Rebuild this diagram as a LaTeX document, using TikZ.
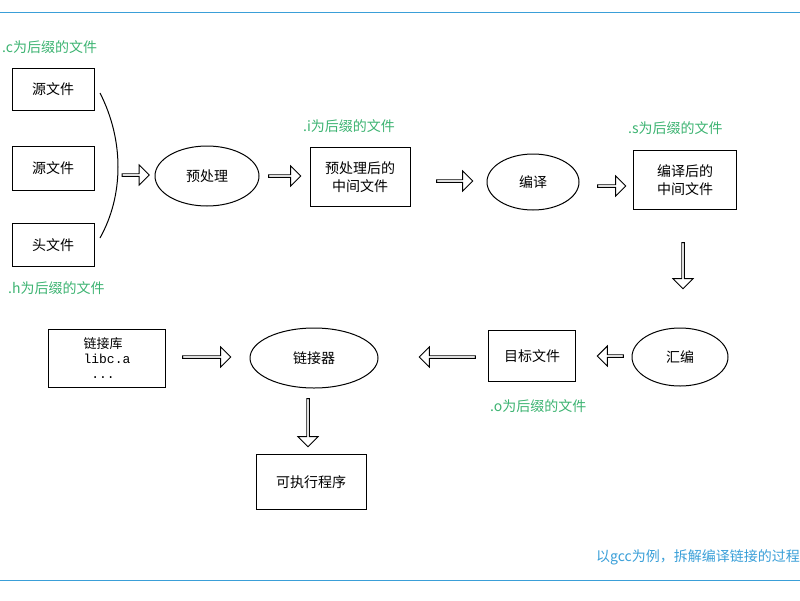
\documentclass[tikz,border=0pt]{standalone}
\usepackage{fontspec}
\setmainfont{Noto Sans CJK SC}
\newfontfamily\monof{Liberation Mono}
\usetikzlibrary{shapes.geometric,shapes.arrows}
\definecolor{grn}{HTML}{3CB371}
\definecolor{blu}{HTML}{3A9FD8}
\begin{document}
\begin{tikzpicture}[x=1pt,y=-1pt,font=\fontsize{14}{18}\selectfont,
 box/.style={draw,line width=1pt,inner sep=0pt},
 ell/.style={draw,line width=1pt,ellipse,inner sep=0pt},
 lab/.style={text=grn,anchor=west,inner sep=0pt},
 harr/.style={draw,line width=0.9pt,single arrow,inner sep=0pt,minimum width=20pt,single arrow head extend=3pt,single arrow tip angle=90}]
\useasboundingbox (0,0) rectangle (800,600);
\draw[blu,line width=1pt] (0,12) coordinate (t1) -- (800,12) coordinate (t2);
\draw[blu,line width=1pt] (0,580) coordinate (b1) -- (800,580) coordinate (b2);
\node[box,minimum width=82pt,minimum height=42pt] (s1) at (53,89) {源文件};
\node[box,minimum width=82pt,minimum height=44pt] (s2) at (53,168) {源文件};
\node[box,minimum width=82pt,minimum height=43pt] (h) at (53,245) {头文件};
\node[lab] (lc) at (2,47) {.c为后缀的文件};
\node[lab] (lh) at (8,288) {.h为后缀的文件};
\coordinate (br1) at (100,93); \coordinate (br2) at (100,238);
\draw[line width=1pt] (br1) .. controls (124,140) and (124,195) .. (br2);
\node[harr,minimum height=27pt] (a1) at (135,175) {};
\node[ell,minimum width=104pt,minimum height=60pt] (pre) at (207,176) {预处理};
\node[harr,minimum height=32pt] (a2) at (284,176) {};
\node[box,minimum width=100pt,minimum height=59pt,align=center] (pi) at (360,177) {预处理后的\\中间文件};
\node[lab] (li) at (303,126) {.i为后缀的文件};
\node[harr,minimum height=36pt] (a3) at (454,181) {};
\node[ell,minimum width=92pt,minimum height=56pt] (cc) at (533,182) {编译};
\node[harr,minimum height=28pt] (a4) at (611,186) {};
\node[box,minimum width=103pt,minimum height=59pt,align=center] (ci) at (685,180) {编译后的\\中间文件};
\node[lab] (ls) at (628,128) {.s为后缀的文件};
\node[harr,minimum height=46pt,rotate=-90] (a5) at (683,265) {};
\node[ell,minimum width=96pt,minimum height=58pt] (as) at (680,357) {汇编};
\node[harr,minimum height=26pt,rotate=180] (a6) at (611,356) {};
\node[box,minimum width=87pt,minimum height=51pt] (ob) at (532,356) {目标文件};
\node[lab] (lo) at (490,406) {.o为后缀的文件};
\node[harr,minimum height=56pt,rotate=180] (a7) at (448,357) {};
\node[ell,minimum width=128pt,minimum height=60pt] (ld) at (314,358) {链接器};
\node[box,minimum width=117pt,minimum height=58pt,align=left,font=\fontsize{13}{15}\selectfont] (lib) at (107,358) {链接库\\{\monof libc.a}\\{\monof\ ...}};
\node[harr,minimum height=48pt] (a8) at (206,357) {};
\node[harr,minimum height=48pt,rotate=-90] (a9) at (308,422) {};
\node[box,minimum width=110pt,minimum height=55pt] (ex) at (311,482) {可执行程序};
\node[text=blu,anchor=east,inner sep=0pt] (cap) at (800,557) {以gcc为例，拆解编译链接的过程};
\end{tikzpicture}
\end{document}
